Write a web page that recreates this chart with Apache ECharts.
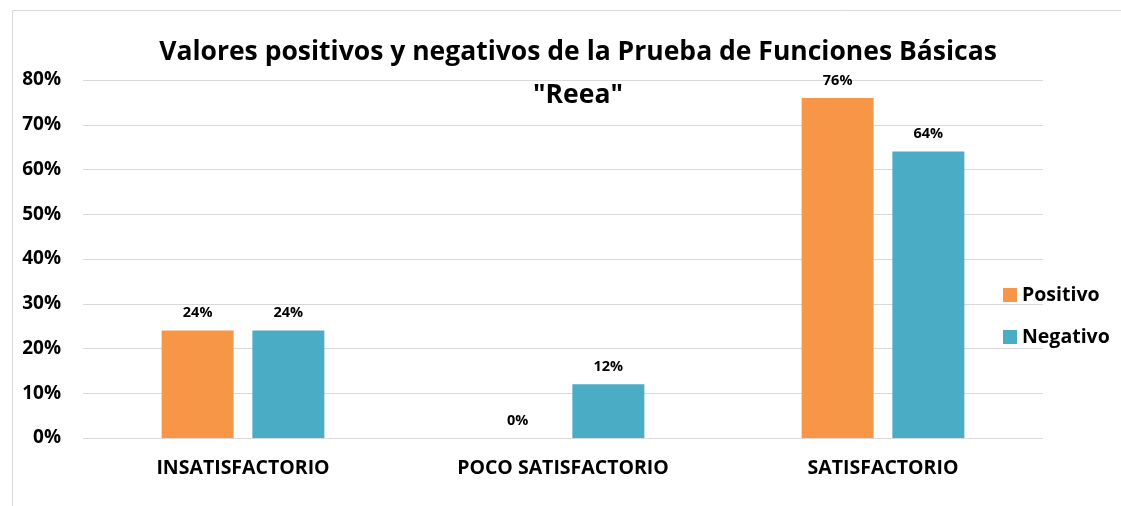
<!DOCTYPE html>
<html><head><meta charset="utf-8">
<script src="https://cdn.jsdelivr.net/npm/echarts@6/dist/echarts.min.js"></script>
<style>html,body{margin:0;padding:0;background:#fff}#c{width:1121px;height:506px}</style>
</head><body><div id="c"></div>
<script>
const categories = ["INSATISFACTORIO", "POCO SATISFACTORIO", "SATISFACTORIO"];
const positivo = [24, 0, 76];
const negativo = [24, 12, 64];
const seriesNames = ["Positivo", "Negativo"];
const titleText = "Valores positivos y negativos de la Prueba de Funciones Básicas\n\"Reea\"";

const FONT = "'Open Sans', sans-serif";
const chart = echarts.init(document.getElementById('c'), null, {renderer: 'canvas'});
const lbl = {show: true, position: 'top', distance: 10, formatter: p => p.value + '%', color: '#000', fontWeight: 'bold', fontSize: 14.5, fontFamily: FONT};
chart.setOption({
  animation: false,
  graphic: [{type: 'rect', shape: {x: 12.5, y: 10.5, width: 1200, height: 600}, style: {fill: 'none', stroke: '#d9d9d9', lineWidth: 1}, z: -1}],
  title: {text: titleText, left: 573, top: 26, textAlign: 'center',
    textStyle: {fontFamily: FONT, fontWeight: 'bold', fontSize: 26.5, color: '#000', lineHeight: 43}},
  legend: {orient: 'vertical', left: 998, top: 280, itemGap: 22, itemWidth: 14, itemHeight: 14, icon: 'rect',
    textStyle: {fontFamily: FONT, fontWeight: 'bold', fontSize: 19.5, color: '#000'}, data: seriesNames},
  grid: {left: 83, right: 78, top: 80, bottom: 68, containLabel: false},
  xAxis: {type: 'category', data: categories, axisLine: {show: false}, axisTick: {show: false},
    axisLabel: {fontFamily: FONT, fontWeight: 'bold', fontSize: 19.5, color: '#000', margin: 20}},
  yAxis: {type: 'value', min: 0, max: 80, interval: 10,
    axisLabel: {formatter: '{value}%', fontFamily: FONT, fontWeight: 'bold', fontSize: 19, color: '#000', margin: 22},
    splitLine: {lineStyle: {color: '#d9d9d9', width: 1}}, axisLine: {show: false}, axisTick: {show: false}},
  series: [
    {name: seriesNames[0], type: 'bar', data: positivo, barWidth: 72, barGap: '26%', itemStyle: {color: '#F79646'}, label: lbl},
    {name: seriesNames[1], type: 'bar', data: negativo, barWidth: 72, itemStyle: {color: '#4BACC6'}, label: lbl}
  ]
});
</script></body></html>
